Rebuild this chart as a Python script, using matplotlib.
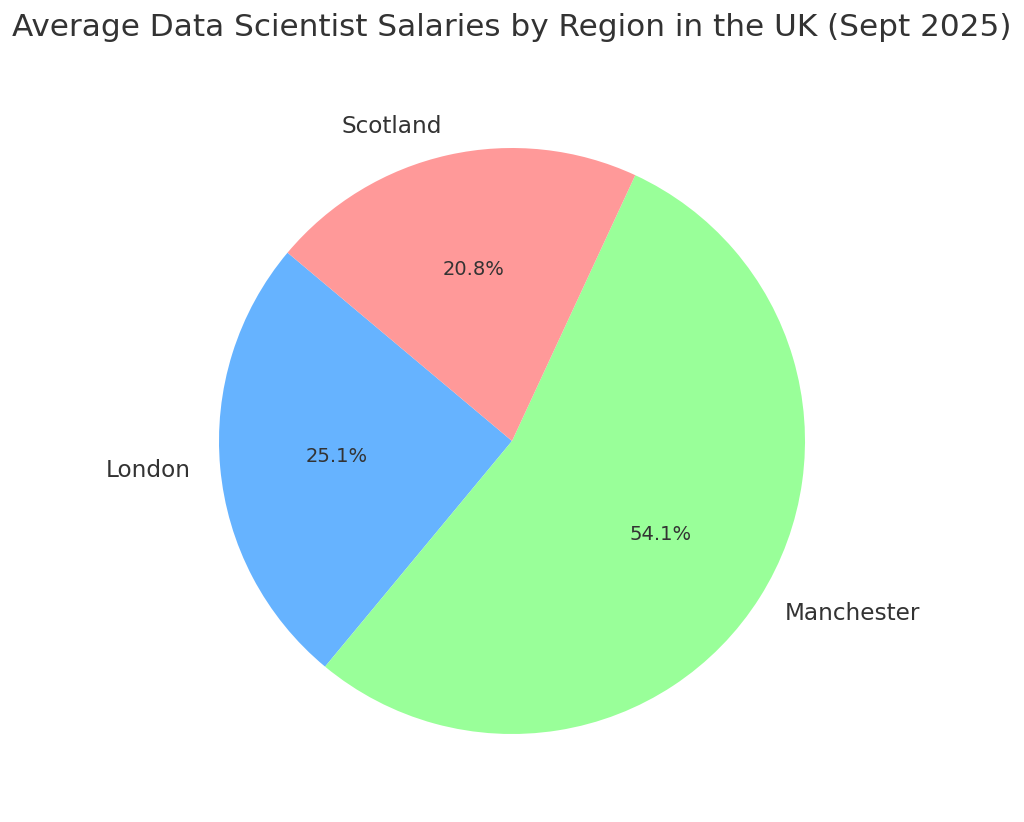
import matplotlib
matplotlib.use("Agg")
import matplotlib.pyplot as plt

# --- Data ---
regions = ["London", "Manchester", "Scotland"]
shares = [25.1, 54.1, 20.8]
colors = ["#66b3ff", "#99ff99", "#ff9999"]
TEXT_COLOR = "#333333"

W, H = 1024, 822
fig = plt.figure(figsize=(W / 100, H / 100), dpi=100)

# pie radius ~293px centred at (512, 441); pie limits are +-1.25
r = 293
side = 2.5 * r
ax = fig.add_axes([(512 - side / 2) / W, (H - 441 - side / 2) / H, side / W, side / H])

wedges, texts, autotexts = ax.pie(
    shares, labels=regions, colors=colors, autopct="%1.1f%%", startangle=140,
    textprops={"color": TEXT_COLOR},
)
for t in texts:
    t.set_fontsize(16.7)
for t in autotexts:
    t.set_fontsize(14)
ax.set_aspect("equal")

fig.text(0.5, 1 - 27 / H, "Average Data Scientist Salaries by Region in the UK (Sept 2025)",
         ha="center", va="center", fontsize=22.4, color=TEXT_COLOR)

fig.savefig("out.png", dpi=100)
